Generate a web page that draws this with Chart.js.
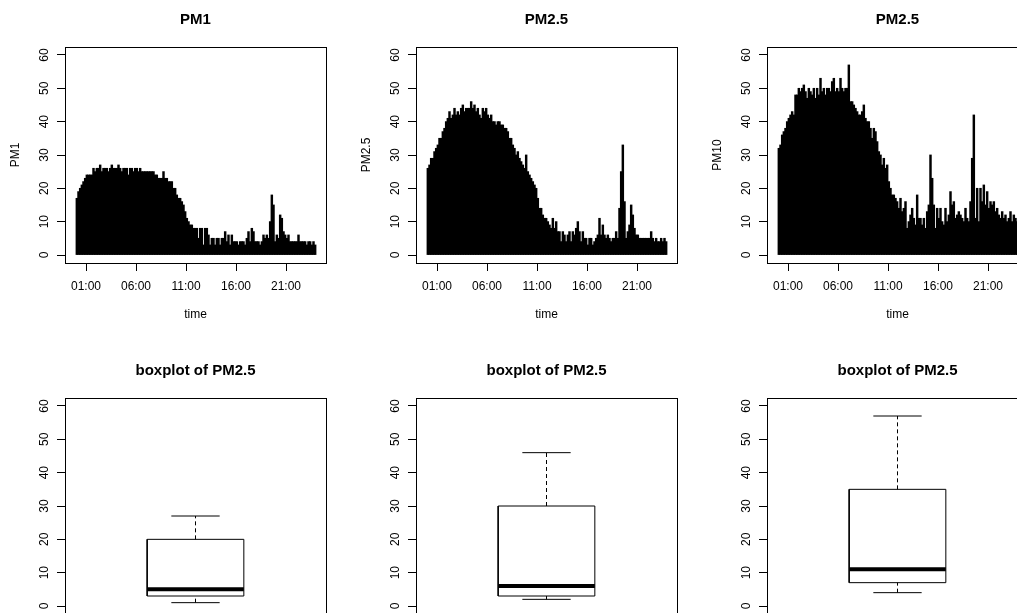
<!DOCTYPE html>
<html>
<head>
<meta charset="utf-8">
<script src="https://cdn.jsdelivr.net/npm/chart.js@4.4.1/dist/chart.umd.min.js"></script>
<style>
  html, body { margin: 0; padding: 0; background: #fff; }
  #page { position: relative; width: 1017px; height: 613px; overflow: hidden; background: #fff; }
  #page canvas { position: absolute; }
</style>
</head>
<body>
<div id="page">
  <canvas id="pm1" width="351" height="351" style="left:0px;top:0px"></canvas>
  <canvas id="pm25" width="351" height="351" style="left:351px;top:0px"></canvas>
  <canvas id="pm10" width="351" height="351" style="left:702px;top:0px"></canvas>
  <canvas id="box1" width="351" height="351" style="left:0px;top:351px"></canvas>
  <canvas id="box2" width="351" height="351" style="left:351px;top:351px"></canvas>
  <canvas id="box3" width="351" height="351" style="left:702px;top:351px"></canvas>
</div>
<script>
// readings every 10 minutes over one day (00:00 - 24:00)
const STEP_MIN = 10;

const PM1 = [
  17, 19, 20, 21, 22, 23, 24, 24, 24, 24, 26, 25,
  26, 26, 27, 25, 26, 26, 26, 25, 26, 27, 26, 26,
  26, 27, 26, 25, 26, 26, 26, 24, 26, 26, 25, 26,
  26, 25, 26, 25, 25, 25, 25, 25, 25, 25, 25, 24,
  24, 23, 23, 23, 25, 23, 23, 22, 22, 22, 20, 20,
  18, 17, 17, 16, 15, 13, 11, 10, 9, 9, 8, 8,
  8, 5, 8, 8, 3, 8, 8, 6, 3, 5, 5, 3,
  5, 5, 3, 5, 5, 7, 4, 6, 3, 6, 4, 4,
  4, 3, 4, 4, 4, 3, 5, 7, 4, 8, 7, 4,
  4, 4, 3, 4, 6, 5, 6, 5, 10, 18, 15, 4,
  6, 5, 12, 11, 7, 6, 5, 6, 4, 4, 4, 4,
  4, 6, 4, 4, 4, 4, 3, 4, 4, 3, 4, 3
];

const PM25 = [
  26, 27, 29, 29, 31, 32, 33, 35, 35, 37, 38, 40,
  41, 43, 41, 42, 44, 42, 43, 42, 44, 45, 43, 44,
  44, 44, 46, 44, 45, 43, 44, 42, 41, 44, 43, 44,
  42, 41, 42, 40, 40, 39, 40, 40, 39, 39, 38, 38,
  37, 35, 35, 33, 32, 30, 31, 29, 28, 27, 26, 30,
  25, 24, 23, 22, 21, 20, 17, 14, 14, 12, 11, 11,
  10, 9, 8, 11, 8, 10, 7, 7, 4, 7, 6, 4,
  6, 7, 4, 7, 6, 8, 10, 7, 4, 7, 5, 5,
  3, 5, 5, 3, 4, 5, 6, 11, 6, 9, 6, 5,
  6, 5, 4, 5, 5, 7, 5, 14, 25, 33, 16, 5,
  7, 9, 15, 12, 8, 6, 6, 5, 5, 5, 5, 5,
  5, 5, 7, 5, 4, 5, 4, 4, 5, 4, 5, 4
];

const PM10 = [
  32, 33, 36, 37, 38, 40, 41, 42, 43, 42, 48, 48,
  50, 49, 50, 51, 49, 47, 50, 49, 48, 50, 47, 50,
  48, 53, 49, 50, 48, 50, 50, 49, 52, 53, 49, 50,
  49, 53, 50, 49, 50, 50, 57, 46, 46, 45, 44, 43,
  42, 42, 43, 45, 41, 40, 40, 38, 35, 38, 37, 34,
  31, 30, 27, 29, 26, 27, 22, 20, 18, 18, 17, 16,
  14, 17, 13, 14, 16, 8, 10, 12, 14, 11, 9, 18,
  11, 11, 9, 11, 8, 13, 15, 30, 23, 15, 8, 14,
  11, 14, 10, 9, 14, 10, 12, 19, 15, 16, 11, 12,
  13, 12, 11, 10, 14, 11, 10, 16, 29, 42, 11, 20,
  10, 20, 16, 21, 15, 19, 14, 16, 15, 16, 13, 14,
  12, 11, 13, 11, 12, 10, 11, 13, 10, 12, 11, 10
];

const X_TICK_HOURS = [1, 6, 11, 16, 21];
const X_TICK_LABELS = ["01:00", "06:00", "11:00", "16:00", "21:00"];
const Y_TICKS = [0, 10, 20, 30, 40, 50, 60];

// boxplot stats: lower whisker, Q1, median, Q3, upper whisker
const BOX_PM1 = [1, 3, 5, 20, 27];
const BOX_PM25 = [2, 3, 6, 30, 46];
const BOX_PM10 = [4, 7, 11, 35, 57];

const FONT = "'Liberation Sans', Arial, sans-serif";
Chart.defaults.font.family = FONT;
Chart.defaults.font.size = 12;
Chart.defaults.color = "#000";
Chart.defaults.animation = false;

// R style box round the plot region
const framePlugin = {
  id: "frame",
  afterDraw(chart) {
    const { ctx, chartArea: a } = chart;
    ctx.save();
    ctx.strokeStyle = "#000";
    ctx.lineWidth = 1;
    ctx.strokeRect(Math.round(a.left) + 0.5, Math.round(a.top) + 0.5,
      Math.round(a.right - a.left), Math.round(a.bottom - a.top));
    ctx.restore();
  },
};

// main title centred over the plot region, like R's title()
function mainTitle(text) {
  return {
    id: "mainTitle",
    afterDraw(chart) {
      const { ctx, chartArea: a } = chart;
      ctx.save();
      ctx.font = "bold 15px " + FONT;
      ctx.fillStyle = "#000";
      ctx.textAlign = "center";
      ctx.textBaseline = "middle";
      ctx.fillText(text, (a.left + a.right) / 2, a.top - 27);
      ctx.restore();
    },
  };
}

function yAxis(title) {
  return {
    type: "linear",
    min: -2.4,
    max: 62.4,
    bounds: "data",
    afterFit(s) { s.width = 65; },
    afterBuildTicks(s) { s.ticks = Y_TICKS.map((v) => ({ value: v })); },
    ticks: { minRotation: 90, maxRotation: 90, crossAlign: "center", padding: 6, color: "#000" },
    grid: { drawOnChartArea: false, drawTicks: true, tickLength: 8, tickColor: "#000", tickWidth: 1 },
    border: { display: true, color: "#000", width: 1 },
    title: {
      display: !!title,
      text: title || "",
      color: "#000",
      font: { size: 12 },
      padding: { top: 8, bottom: 0 },
    },
  };
}

function timeChart(id, title, yTitle, values) {
  const points = values.map((v, i) => ({ x: (i * STEP_MIN + STEP_MIN / 2) / 60, y: v }));
  return new Chart(document.getElementById(id), {
    type: "bar",
    data: {
      datasets: [{
        data: points,
        backgroundColor: "#000",
        borderWidth: 0,
        barPercentage: 1,
        categoryPercentage: 1,
        inflateAmount: 0.4,
      }],
    },
    options: {
      responsive: false,
      layout: { padding: { left: 0, right: 25, top: 47, bottom: 26 } },
      plugins: { legend: { display: false }, tooltip: { enabled: false }, title: { display: false } },
      scales: {
        x: {
          type: "linear",
          min: -1.1,
          max: 25.0,
          offset: false,
          bounds: "data",
          afterFit(s) { s.height = 62; },
          afterBuildTicks(s) { s.ticks = X_TICK_HOURS.map((v) => ({ value: v })); },
          ticks: {
            autoSkip: false,
            maxRotation: 0,
            padding: 8,
            color: "#000",
            callback: (v, i) => X_TICK_LABELS[i],
          },
          grid: { drawOnChartArea: false, tickLength: 8, tickColor: "#000", offset: false },
          border: { display: true, color: "#000", width: 1 },
          title: { display: true, text: "time", color: "#000", font: { size: 12 }, padding: { top: 0, bottom: 3 } },
        },
        y: yAxis(yTitle),
      },
    },
    plugins: [framePlugin, mainTitle(title)],
  });
}

function boxChart(id, title, stats) {
  const [lo, q1, med, q3, hi] = stats;
  const c = 1, hw = 0.2, cw = 0.1;
  const seg = (pts, extra) => Object.assign({
    data: pts, showLine: true, pointRadius: 0, borderColor: "#000", borderWidth: 1,
    fill: false, borderJoinStyle: "miter", borderCapStyle: "butt",
  }, extra || {});
  const datasets = [
    seg([{ x: c - hw, y: med }, { x: c + hw, y: med }], { borderWidth: 4 }),
    seg([{ x: c - hw, y: q1 }, { x: c + hw, y: q1 }, { x: c + hw, y: q3 }, { x: c - hw, y: q3 }, { x: c - hw, y: q1 }]),
    seg([{ x: c, y: q3 }, { x: c, y: hi }], { borderDash: [4, 3] }),
    seg([{ x: c, y: lo }, { x: c, y: q1 }], { borderDash: [4, 3] }),
    seg([{ x: c - cw, y: hi }, { x: c + cw, y: hi }]),
    seg([{ x: c - cw, y: lo }, { x: c + cw, y: lo }]),
  ];
  return new Chart(document.getElementById(id), {
    type: "scatter",
    data: { datasets },
    options: {
      responsive: false,
      layout: { padding: { left: 0, right: 25, top: 47, bottom: 88 } },
      plugins: { legend: { display: false }, tooltip: { enabled: false }, title: { display: false } },
      scales: {
        x: { type: "linear", min: 0.46, max: 1.54, display: false },
        y: yAxis(null),
      },
    },
    plugins: [framePlugin, mainTitle(title)],
  });
}

timeChart("pm1", "PM1", "PM1", PM1);
timeChart("pm25", "PM2.5", "PM2.5", PM25);
timeChart("pm10", "PM2.5", "PM10", PM10);
boxChart("box1", "boxplot of PM2.5", BOX_PM1);
boxChart("box2", "boxplot of PM2.5", BOX_PM25);
boxChart("box3", "boxplot of PM2.5", BOX_PM10);
</script>
</body>
</html>
